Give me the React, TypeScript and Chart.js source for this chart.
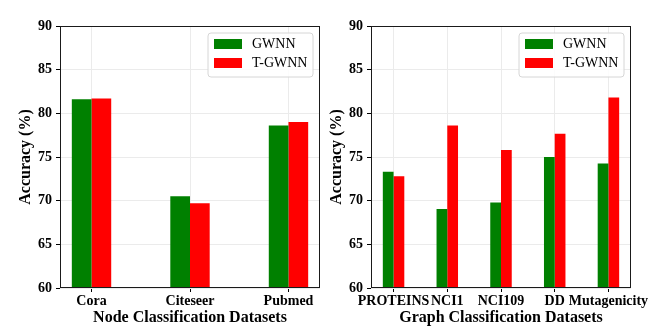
import React, { useEffect, useRef } from "react";
import { Chart, registerables } from "chart.js";

Chart.register(...registerables);

const seriesNames = ["GWNN", "T-GWNN"];
const seriesColors = ["#008000", "#ff0000"];

const nodeDatasets = ["Cora", "Citeseer", "Pubmed"];
const nodeGWNN = [81.6, 70.5, 78.6];
const nodeTGWNN = [81.7, 69.7, 79.0];

const graphDatasets = ["PROTEINS", "NCI1", "NCI109", "DD", "Mutagenicity"];
const graphGWNN = [73.3, 69.05, 69.8, 75.0, 74.25];
const graphTGWNN = [72.8, 78.6, 75.8, 77.65, 81.8];

const yTicks = [60, 65, 70, 75, 80, 85, 90];

const yTitle = "Accuracy (%)";
const nodeXTitle = "Node Classification Datasets";
const graphXTitle = "Graph Classification Datasets";

const FONT = "'Liberation Serif', 'Times New Roman', serif";

const framePlugin = {
  id: "frameAndLegend",
  afterDatasetsDraw(chart: any) {
    const { ctx, chartArea } = chart;
    const l = Math.round(chartArea.left) + 0.5;
    const r = Math.round(chartArea.right) - 0.5;
    const t = Math.round(chartArea.top) + 0.5;
    const b = Math.round(chartArea.bottom) - 0.5;
    ctx.save();
    ctx.strokeStyle = "#1a1a1a";
    ctx.lineWidth = 1;
    ctx.strokeRect(l, t, r - l, b - t);

    // legend box (matplotlib style, upper right inside axes)
    const boxW = 105;
    const boxH = 44;
    const bx = Math.round(chartArea.right) - 7 - boxW;
    const by = Math.round(chartArea.top) + 7;
    const rad = 3;
    ctx.beginPath();
    ctx.moveTo(bx + rad, by);
    ctx.lineTo(bx + boxW - rad, by);
    ctx.arcTo(bx + boxW, by, bx + boxW, by + rad, rad);
    ctx.lineTo(bx + boxW, by + boxH - rad);
    ctx.arcTo(bx + boxW, by + boxH, bx + boxW - rad, by + boxH, rad);
    ctx.lineTo(bx + rad, by + boxH);
    ctx.arcTo(bx, by + boxH, bx, by + boxH - rad, rad);
    ctx.lineTo(bx, by + rad);
    ctx.arcTo(bx, by, bx + rad, by, rad);
    ctx.closePath();
    ctx.fillStyle = "rgba(255,255,255,0.85)";
    ctx.fill();
    ctx.strokeStyle = "#d6d6d6";
    ctx.lineWidth = 1;
    ctx.stroke();

    ctx.font = `14px ${FONT}`;
    ctx.textBaseline = "middle";
    ctx.textAlign = "left";
    chart.data.datasets.forEach((ds: any, i: number) => {
      const sy = by + 6 + i * 19;
      ctx.fillStyle = ds.backgroundColor;
      ctx.fillRect(bx + 6, sy, 28, 10);
      ctx.fillStyle = "#000";
      ctx.fillText(ds.label, bx + 44, sy + 5.5);
    });
    ctx.restore();
  },
};

type Props = {
  cats: string[];
  a: number[];
  b: number[];
  xTitle: string;
  width: number;
  yAxisWidth: number;
  padRight: number;
  yTitlePad: number;
};

function BarPanel({ cats, a, b, xTitle, width, yAxisWidth, padRight, yTitlePad }: Props) {
  const ref = useRef<HTMLCanvasElement | null>(null);
  useEffect(() => {
    if (!ref.current) return;
    const n = cats.length;
    const margin = 0.05 * (n - 1 + 0.4);
    const chart = new Chart(ref.current, {
      type: "bar",
      data: {
        datasets: [a, b].map((vals, k) => ({
          label: seriesNames[k],
          data: vals.map((v, i) => ({ x: i, y: v })),
          backgroundColor: seriesColors[k],
          borderWidth: 0,
          categoryPercentage: 0.4,
          barPercentage: 1.0,
        })),
      },
      options: {
        responsive: false,
        animation: false,
        layout: { padding: { top: 26, right: padRight, bottom: 0, left: 0 } },
        plugins: {
          legend: { display: false },
          tooltip: { enabled: false },
        },
        scales: {
          x: {
            type: "linear",
            min: -0.2 - margin,
            max: n - 1 + 0.2 + margin,
            offset: false,
            afterBuildTicks: (scale: any) => {
              scale.ticks = cats.map((_, i) => ({ value: i }));
            },
            afterFit: (scale: any) => {
              scale.height = 44;
            },
            ticks: {
              autoSkip: false,
              maxRotation: 0,
              minRotation: 0,
              padding: 1,
              color: "#000",
              font: { family: FONT, size: 14, weight: "bold" },
              callback: (v: any) => cats[Math.round(Number(v))] ?? "",
            },
            grid: {
              offset: false,
              color: "#ebebeb",
              lineWidth: 1,
              drawTicks: true,
              tickLength: 4,
              tickColor: "#000",
              tickWidth: 1,
            },
            border: { display: false },
            title: {
              display: true,
              text: xTitle,
              color: "#000",
              font: { family: FONT, size: 16, weight: "bold" },
              padding: { top: 0, bottom: 4.4 },
            },
          },
          y: {
            type: "linear",
            min: 60,
            max: 90,
            beginAtZero: false,
            afterBuildTicks: (scale: any) => {
              scale.ticks = yTicks.map((v) => ({ value: v }));
            },
            afterFit: (scale: any) => {
              scale.width = yAxisWidth;
            },
            ticks: {
              padding: 4,
              color: "#000",
              font: { family: FONT, size: 14, weight: "bold" },
            },
            grid: {
              color: "#ebebeb",
              lineWidth: 1,
              drawTicks: true,
              tickLength: 4,
              tickColor: "#000",
              tickWidth: 1,
            },
            border: { display: false },
            title: {
              display: true,
              text: yTitle,
              color: "#000",
              font: { family: FONT, size: 16, weight: "bold" },
              padding: { top: yTitlePad, bottom: 0 },
            },
          },
        },
      } as any,
      plugins: [framePlugin],
    });
    return () => chart.destroy();
  }, []);
  return (
    <canvas
      ref={ref}
      width={width}
      height={332}
      style={{ display: "block", width: width, height: 332 }}
    />
  );
}

export default function App() {
  return (
    <div
      style={{
        position: "fixed",
        left: 0,
        top: 0,
        width: 664,
        height: 332,
        background: "#fff",
        display: "flex",
      }}
    >
      <BarPanel
        cats={nodeDatasets}
        a={nodeGWNN}
        b={nodeTGWNN}
        xTitle={nodeXTitle}
        width={326}
        yAxisWidth={60}
        padRight={6}
        yTitlePad={16.4}
      />
      <BarPanel
        cats={graphDatasets}
        a={graphGWNN}
        b={graphTGWNN}
        xTitle={graphXTitle}
        width={338}
        yAxisWidth={45}
        padRight={33}
        yTitlePad={1.4}
      />
    </div>
  );
}
